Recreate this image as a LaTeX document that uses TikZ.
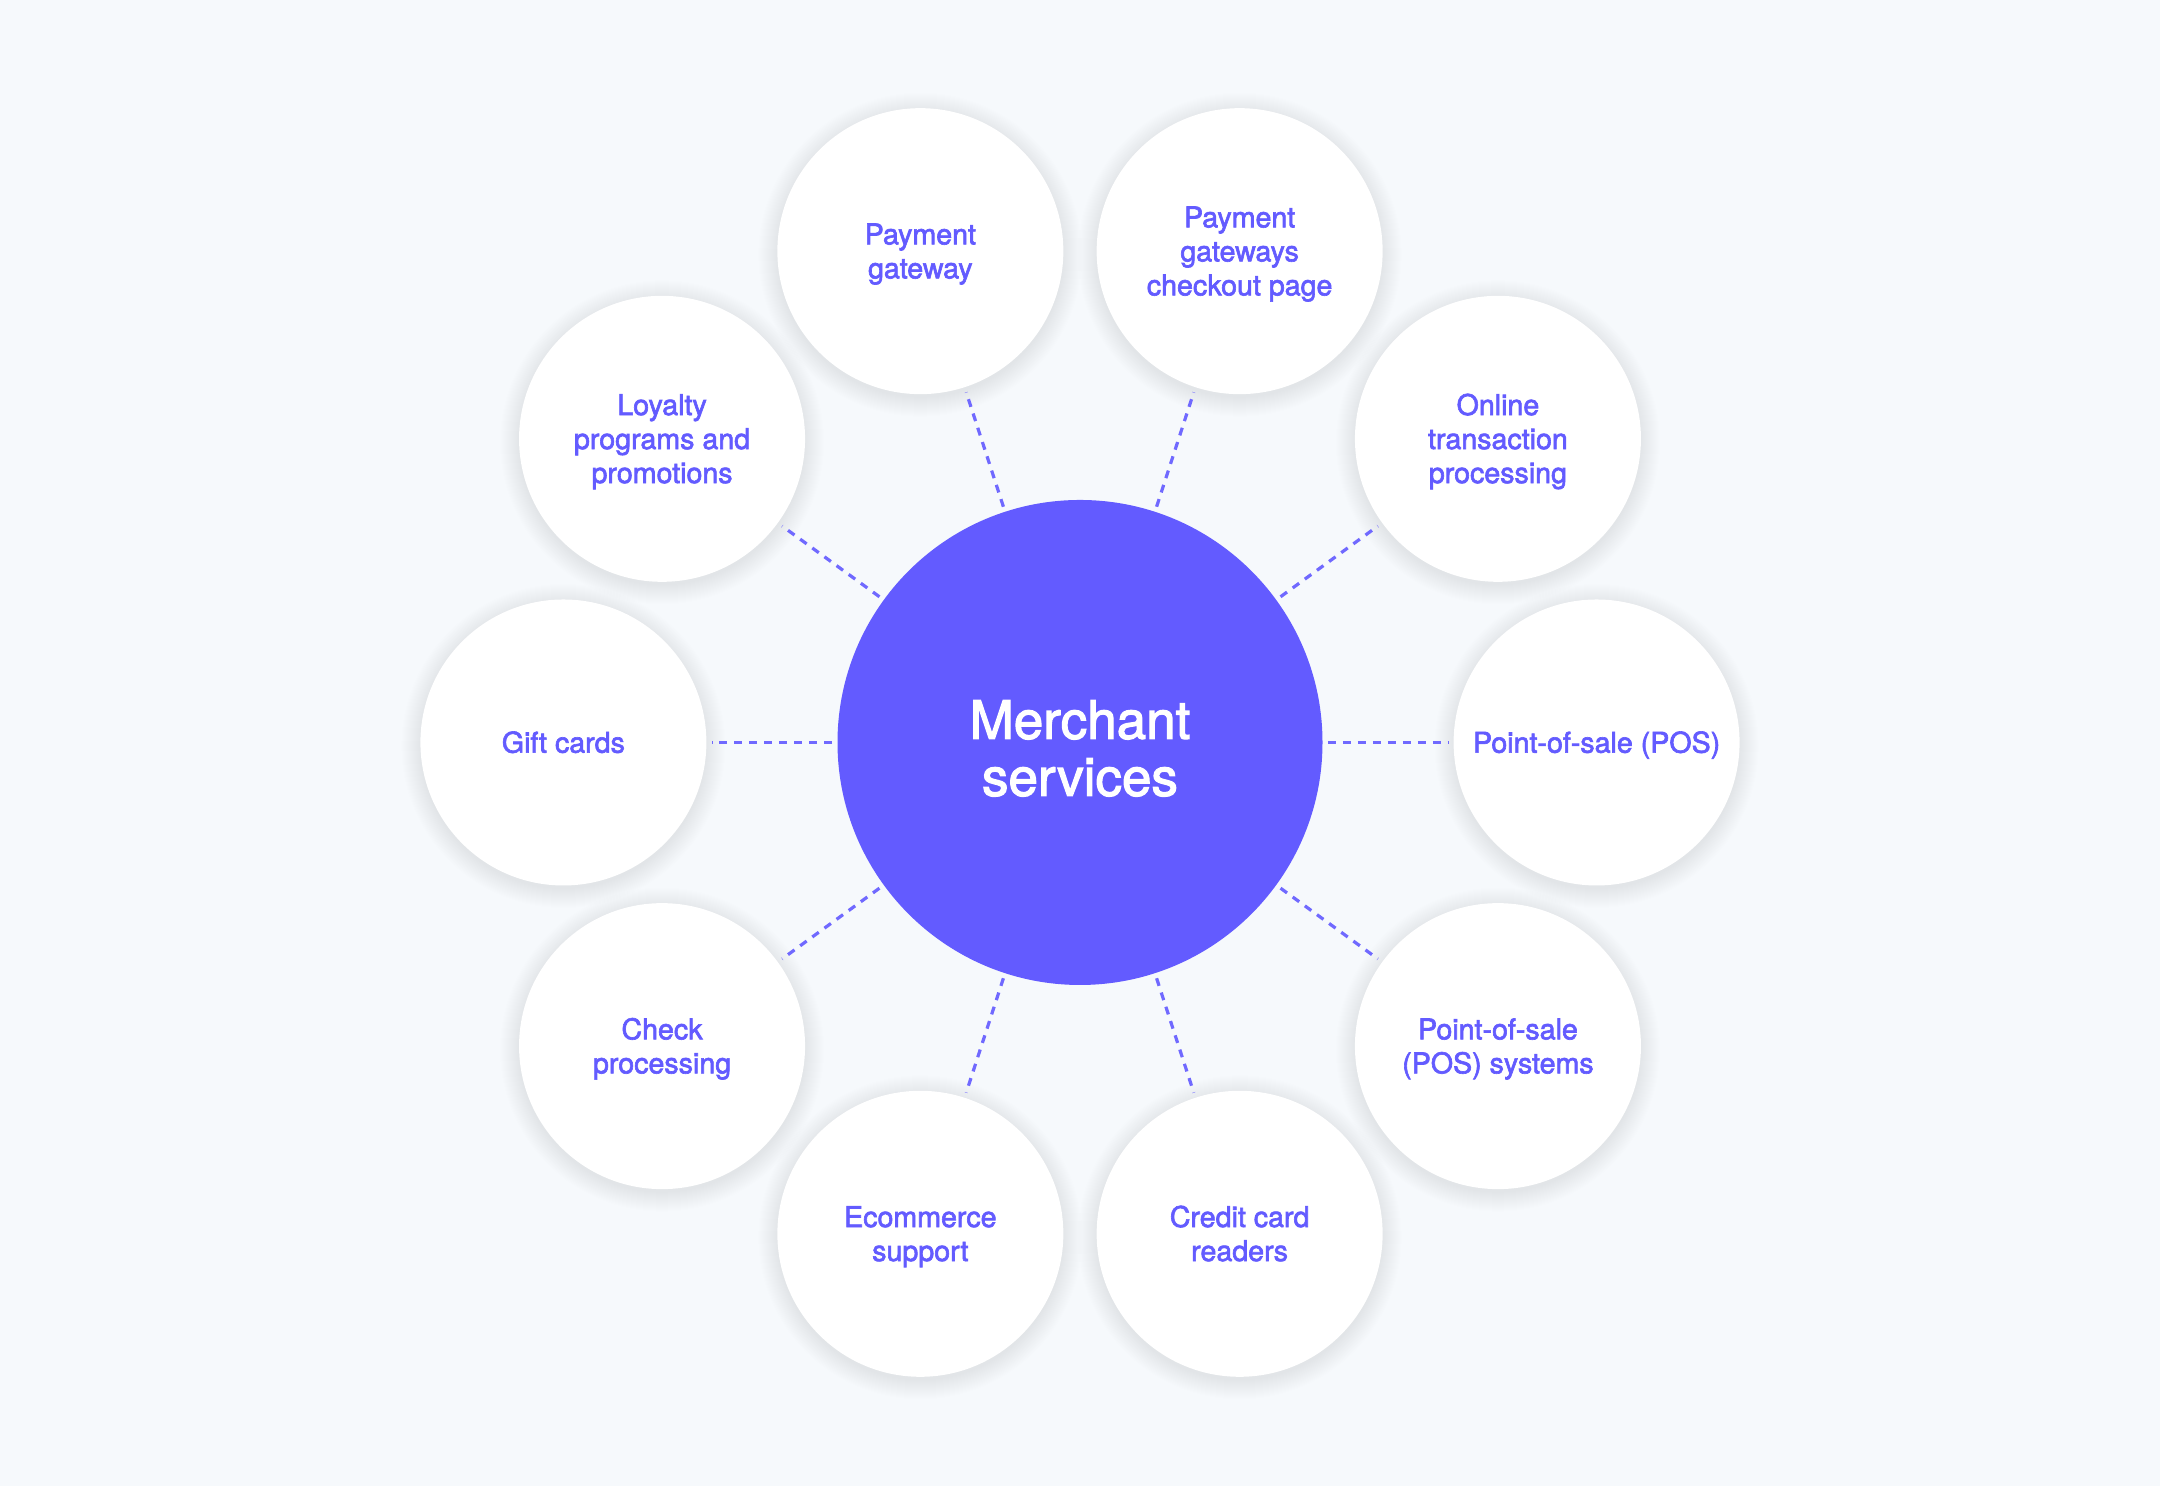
\documentclass[tikz,border=0pt]{standalone}
\usepackage{fontspec}
\newfontfamily\labfont{TeX Gyre Heros}[RawFeature={embolden=2.2}]
\definecolor{bgcol}{HTML}{F6F9FC}
\definecolor{blurple}{HTML}{635BFF}
\definecolor{dashcol}{HTML}{7069FF}
\definecolor{shadowcol}{HTML}{3A4AA8}
\newcommand{\sattext}[1]{\raisebox{-1.7pt}[\height][\depth]{\begin{tabular}{@{}c@{}}#1\end{tabular}}}
\newcommand{\hubtext}[1]{\raisebox{-6.7pt}[\height][\depth]{\begin{tabular}{@{}c@{}}#1\end{tabular}}}
\tikzset{
  sat/.style={circle, fill=white, minimum size=143pt, inner sep=0pt,
    text=blurple, font=\labfont\fontsize{14.3}{17}\selectfont},
  hub/.style={circle, fill=blurple, minimum size=242.5pt, inner sep=0pt,
    text=white, font=\labfont\fontsize{26.5}{28.5}\selectfont},
  conn/.style={draw=dashcol, line width=1.6pt, dash pattern=on 4pt off 3.5pt,
    shorten <=2.5pt, shorten >=2.5pt},
  softshadow/.style={fill=shadowcol, opacity=0.0034}
}
\begin{document}
\begin{tikzpicture}[x=0.5pt,y=0.5pt]
\path[fill=bgcol] (0,0) rectangle (2160,1486);
\useasboundingbox (0,0) rectangle (2160,1486);
\coordinate (o) at (1080,743.5);
% soft shadows behind the satellites
\foreach \a in {0,36,...,324}{
  \foreach \k in {1,...,20}{
    \pgfmathsetmacro{\rr}{(142+\k)*0.5}
    \fill[softshadow] ([shift={(1080,740)}]\a:516.6) circle[radius=\rr pt];
  }
}
\node[hub] (hub) at (o) {\hubtext{Merchant\\services}};
\node[sat] (s0) at ([shift={(1080,743.5)}]0:516.6) {\sattext{Point-of-sale (POS)}};
\node[sat] (s1) at ([shift={(1080,743.5)}]36:516.6) {\sattext{Online\\transaction\\processing}};
\node[sat] (s2) at ([shift={(1080,743.5)}]72:516.6) {\sattext{Payment\\gateways\\checkout page}};
\node[sat] (s3) at ([shift={(1080,743.5)}]108:516.6) {\sattext{Payment\\gateway}};
\node[sat] (s4) at ([shift={(1080,743.5)}]144:516.6) {\sattext{Loyalty\\programs and\\promotions}};
\node[sat] (s5) at ([shift={(1080,743.5)}]180:516.6) {\sattext{Gift cards}};
\node[sat] (s6) at ([shift={(1080,743.5)}]216:516.6) {\sattext{Check\\processing}};
\node[sat] (s7) at ([shift={(1080,743.5)}]252:516.6) {\sattext{Ecommerce\\support}};
\node[sat] (s8) at ([shift={(1080,743.5)}]288:516.6) {\sattext{Credit card\\readers}};
\node[sat] (s9) at ([shift={(1080,743.5)}]324:516.6) {\sattext{Point-of-sale\\(POS) systems}};
\foreach \i in {0,...,9}{
  \draw[conn] (hub) -- (s\i);
}
\end{tikzpicture}
\end{document}
